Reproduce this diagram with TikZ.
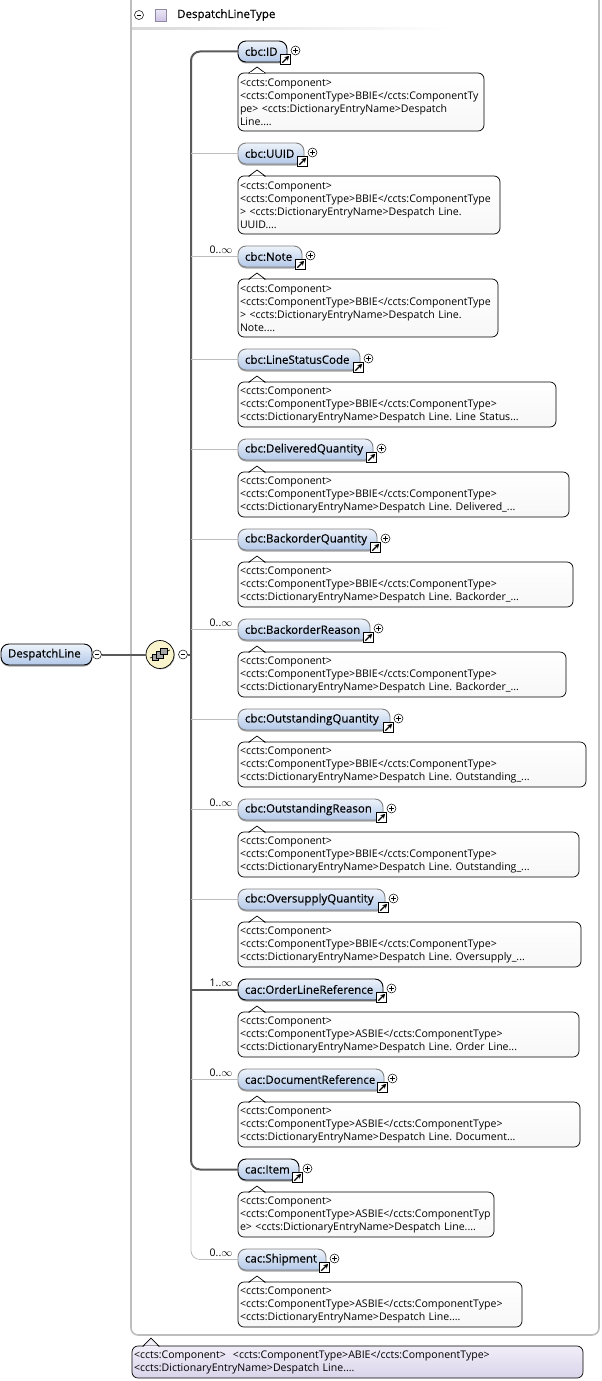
\documentclass[tikz,border=0pt]{standalone}
\usepackage{fontspec}
\usepackage{amsmath}
\setmainfont{Open Sans}
\newfontfamily\labelfont[FakeBold=0.25]{Open Sans}
\usetikzlibrary{arrows.meta,shadows}
\definecolor{railgray}{HTML}{5A5A5A}
\definecolor{lightrail}{HTML}{BDBDBD}
\definecolor{framegray}{HTML}{BEBEBE}
\definecolor{eltop}{HTML}{EEF3FB}
\definecolor{elbottom}{HTML}{B2C8E8}
\definecolor{seqfill}{HTML}{FAF4CC}
\definecolor{typefill}{HTML}{CFC4E6}
\definecolor{lavtop}{HTML}{F1EEF8}
\definecolor{lavbottom}{HTML}{DAD4EA}
\tikzset{
  elem/.style={draw=#1, line width=0.9pt, rounded corners=8pt, top color=eltop, bottom color=elbottom,
    minimum height=21pt, inner xsep=7pt, inner ysep=0pt, outer sep=0pt, anchor=west, align=left,
    font=\labelfont\fontsize{11.5}{12}\selectfont,
    drop shadow={shadow xshift=0pt, shadow yshift=-1.5pt, opacity=.35, fill=black}},
  comment/.style={draw=black, line width=0.7pt, rounded corners=6pt, top color=white, bottom color=#1,
    inner xsep=2pt, inner ysep=0pt, outer sep=0pt, anchor=north west, align=left,
    font=\frenchspacing\fontsize{10.55}{13}\selectfont},
  multlabel/.style={inner sep=0pt, font=\fontsize{10.5}{12}\selectfont},
  railreq/.style={draw=railgray, line width=2pt, rounded corners=9pt},
  railopt/.style={draw=lightrail, line width=0.8pt, rounded corners=9pt},
  pmcircle/.style={circle, draw=black, fill=white, line width=0.5pt, minimum size=9pt, inner sep=0pt},
  minusmark/.style={pmcircle, path picture={
    \draw[line width=0.6pt] ([xshift=-2.4pt]path picture bounding box.center) -- ([xshift=2.4pt]path picture bounding box.center);}},
  plusmark/.style={pmcircle, path picture={
    \draw[line width=0.6pt] ([xshift=-2.4pt]path picture bounding box.center) -- ([xshift=2.4pt]path picture bounding box.center);
    \draw[line width=0.6pt] ([yshift=-2.4pt]path picture bounding box.center) -- ([yshift=2.4pt]path picture bounding box.center);}},
  linkmark/.style={rectangle, draw=black, fill=white, line width=1pt, minimum size=10pt, inner sep=0pt, path picture={
    \draw[-{Stealth[length=4.5pt,width=5pt]}, line width=1.3pt] ([xshift=-3.2pt,yshift=-3.2pt]path picture bounding box.center) -- ([xshift=3.6pt,yshift=3.6pt]path picture bounding box.center);}},
  seqbox/.style={draw=black, fill=gray!70, line width=0.4pt, minimum size=#1, inner sep=0pt}
}
\begin{document}
\begin{tikzpicture}[x=1pt,y=-1pt]
  \useasboundingbox (0,0) rectangle (602,1381);
  % type frame
  \draw[draw=framegray, line width=1.6pt, rounded corners=7pt] (131,0) -- (131,1335) -- (599,1335) -- (599,0);
  \shade[left color=gray!30, right color=white] (132,28) rectangle (450,30);
  \node[minusmark] (typeminus) at (139,15) {};
  \node[draw=typefill!70!black, top color=typefill!40, bottom color=typefill, minimum size=11.5pt, inner sep=0pt] (typeicon) at (160.5,15) {};
  \node[anchor=west, inner sep=0pt, font=\labelfont\fontsize{11.5}{12}\selectfont] (typename) at (177,15) {DespatchLineType};
  % root and sequence
  \node[elem=black] (root) at (1,654.5) {\makebox[77pt][l]{DespatchLine}};
  \node[minusmark] (rootminus) at (97,654.5) {};
  \node[circle, draw=black, fill=seqfill, line width=0.7pt, minimum size=28pt, inner sep=0pt,
    drop shadow={shadow xshift=0.8pt, shadow yshift=-0.8pt, opacity=.35, fill=black}] (seq) at (160,654.5) {};
  \draw[line width=0.6pt] (150,658) -- (170,650);
  \node[seqbox=6pt] (seqa) at (155,657.5) {};
  \node[seqbox=6.5pt] (seqb) at (159.5,654.5) {};
  \node[seqbox=6.5pt] (seqc) at (163.5,651) {};
  \node[minusmark] (seqminus) at (183,654.5) {};
  \draw[railreq] (rootminus) -- (seq);
  % elements
  \foreach \n/\nm/\ym/\xr/\ctop/\cbot/\cr/\col/\txt in {
    1/cbc:ID/51.5/287/73/131/484/black/{<ccts:Component>\\<ccts:ComponentType>BBIE</ccts:ComponentTy\\pe> <ccts:DictionaryEntryName>Despatch\\Line....},
    2/cbc:UUID/153.5/304/176/234/500/gray/{<ccts:Component>\\<ccts:ComponentType>BBIE</ccts:ComponentType\\> <ccts:DictionaryEntryName>Despatch Line.\\UUID....},
    3/cbc:Note/256.5/302/279/337/498/gray/{<ccts:Component>\\<ccts:ComponentType>BBIE</ccts:ComponentType\\> <ccts:DictionaryEntryName>Despatch Line.\\Note....},
    4/cbc:LineStatusCode/359.5/360/382/427/556/gray/{<ccts:Component>\\<ccts:ComponentType>BBIE</ccts:ComponentType>\\<ccts:DictionaryEntryName>Despatch Line. Line Status...},
    5/cbc:DeliveredQuantity/449.5/373/472/517/569/gray/{<ccts:Component>\\<ccts:ComponentType>BBIE</ccts:ComponentType>\\<ccts:DictionaryEntryName>Despatch Line. Delivered\_...},
    6/cbc:BackorderQuantity/539.5/377/562/607/573/gray/{<ccts:Component>\\<ccts:ComponentType>BBIE</ccts:ComponentType>\\<ccts:DictionaryEntryName>Despatch Line. Backorder\_...},
    7/cbc:BackorderReason/629.5/370/652/697/566/gray/{<ccts:Component>\\<ccts:ComponentType>BBIE</ccts:ComponentType>\\<ccts:DictionaryEntryName>Despatch Line. Backorder\_...},
    8/cbc:OutstandingQuantity/719.5/390/742/787/586/gray/{<ccts:Component>\\<ccts:ComponentType>BBIE</ccts:ComponentType>\\<ccts:DictionaryEntryName>Despatch Line. Outstanding\_...},
    9/cbc:OutstandingReason/809.5/383/832/877/579/gray/{<ccts:Component>\\<ccts:ComponentType>BBIE</ccts:ComponentType>\\<ccts:DictionaryEntryName>Despatch Line. Outstanding\_...},
    10/cbc:OversupplyQuantity/899.5/385/922/967/581/gray/{<ccts:Component>\\<ccts:ComponentType>BBIE</ccts:ComponentType>\\<ccts:DictionaryEntryName>Despatch Line. Oversupply\_...},
    11/cac:OrderLineReference/989.5/383/1012/1057/579/black/{<ccts:Component>\\<ccts:ComponentType>ASBIE</ccts:ComponentType>\\<ccts:DictionaryEntryName>Despatch Line. Order Line...},
    12/cac:DocumentReference/1079.5/384/1102/1147/580/gray/{<ccts:Component>\\<ccts:ComponentType>ASBIE</ccts:ComponentType>\\<ccts:DictionaryEntryName>Despatch Line. Document...},
    13/cac:Item/1169.5/299/1192/1237/494/black/{<ccts:Component>\\<ccts:ComponentType>ASBIE</ccts:ComponentTyp\\e> <ccts:DictionaryEntryName>Despatch Line....},
    14/cac:Shipment/1259.5/326/1282/1327/522/gray/{<ccts:Component>\\<ccts:ComponentType>ASBIE</ccts:ComponentType>\\<ccts:DictionaryEntryName>Despatch Line....}} {
    \pgfmathsetmacro\elw{\xr-238-14}
    \pgfmathsetmacro\cw{\cr-238}
    \pgfmathsetmacro\ch{\cbot-\ctop}
    \node[elem=\col, text width=\elw pt] (el\n) at (238,\ym) {\nm};
    \node[plusmark] (plus\n) at ([xshift=8.5pt,yshift=1pt]el\n.east) {};
    \node[linkmark] (link\n) at ([xshift=-1.5pt,yshift=-8pt]el\n.east) {};
    \node[comment=black!3, text width=\cw pt-4pt, minimum height=\ch pt] (com\n) at (238,\ctop) {\txt};
    \filldraw[draw=black, fill=white, line width=0.7pt] (249,\ctop) -- (257,\ctop-6) -- (265,\ctop) -- cycle;
    \draw[white, line width=1pt] (249.8,\ctop) -- (264.2,\ctop);
  }
  % rail
  \coordinate (railtop) at (191,51.5);
  \coordinate (railitem) at (191,1169.5);
  \coordinate (railend) at (191,1259.5);
  \draw[railopt] (railitem) -- (railend) -- (el14.west);
  \draw[railreq] (el1.west) -- (railtop) -- (railitem) -- (el13.west);
  \draw[railreq] (seqminus) -- (seqminus -| railtop);
  \draw[railreq] (el11.west) -- (el11.west -| railtop);
  \foreach \n in {2,3,4,5,6,7,8,9,10,12} {
    \draw[railopt] (el\n.west) -- (el\n.west -| railtop);
  }
  % occurrences
  \foreach \n/\low in {3/0,7/0,9/0,11/1,12/0,14/0} {
    \node[multlabel] (occ\n) at ([xshift=-17pt,yshift=7pt]el\n.west) {\low..$\infty$};
  }
  % comment of the type
  \node[comment=lavbottom, top color=lavtop, text width=447pt, minimum height=32pt] (typecom) at (132,1346)
    {<ccts:Component>\ \ <ccts:ComponentType>ABIE</ccts:ComponentType>\\<ccts:DictionaryEntryName>Despatch Line....};
  \filldraw[draw=black, fill=lavtop, line width=0.7pt] (143,1346) -- (151,1338) -- (159,1346) -- cycle;
  \draw[lavtop, line width=1pt] (143.8,1346) -- (158.2,1346);
\end{tikzpicture}
\end{document}
